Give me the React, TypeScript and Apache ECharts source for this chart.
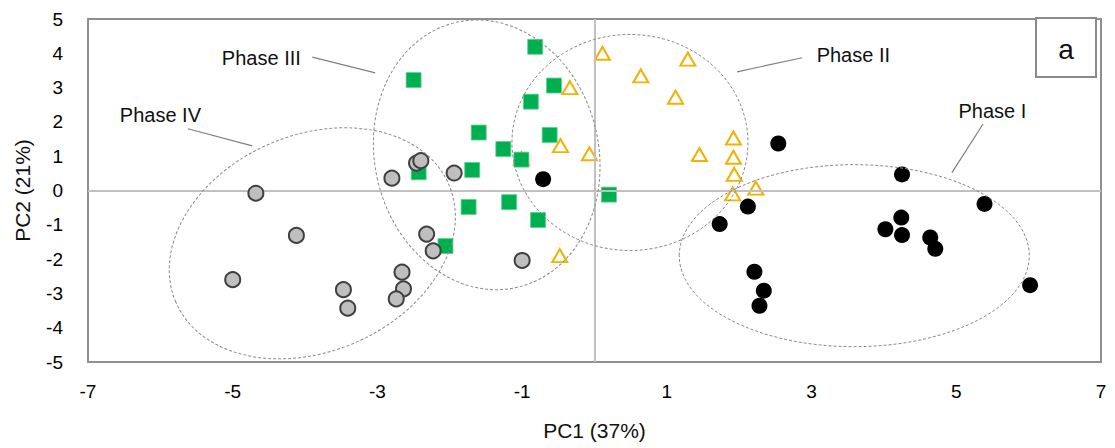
import React, { useEffect, useRef } from "react";
import * as echarts from "echarts";

// PCA scores [PC1, PC2] per phase
const phaseI: number[][] = [
  [-0.71, 0.33], [2.54, 1.37], [4.25, 0.47], [2.12, -0.47], [1.73, -0.98],
  [5.39, -0.39], [4.24, -0.79], [4.02, -1.13], [4.25, -1.3], [4.64, -1.37],
  [4.71, -1.7], [6.02, -2.76], [2.21, -2.37], [2.34, -2.92], [2.28, -3.36],
];
const phaseII: number[][] = [
  [0.11, 4.0], [1.29, 3.83], [0.64, 3.34], [-0.34, 3.0], [1.12, 2.72],
  [-0.47, 1.31], [-0.07, 1.07], [1.45, 1.05], [1.92, 1.53], [1.92, 0.97],
  [1.93, 0.47], [1.91, -0.1], [2.23, 0.07], [-0.48, -1.9], [-1.01, 0.93],
];
const phaseIII: number[][] = [
  [-0.82, 4.19], [-2.5, 3.22], [-0.56, 3.06], [-0.88, 2.59], [-1.6, 1.69],
  [-0.62, 1.62], [-1.26, 1.21], [-1.01, 0.9], [-1.69, 0.6], [-2.43, 0.53],
  [0.2, -0.12], [-1.74, -0.48], [-1.18, -0.34], [-0.78, -0.86], [-2.06, -1.62],
];
const phaseIV: number[][] = [
  [-4.68, -0.08], [-4.12, -1.31], [-5.0, -2.6], [-3.47, -2.89], [-3.41, -3.43],
  [-2.32, -1.27], [-2.23, -1.76], [-2.66, -2.38], [-2.64, -2.87], [-2.74, -3.16],
  [-1.0, -2.04], [-2.8, 0.36], [-2.46, 0.8], [-2.4, 0.87], [-1.94, 0.51],
];

const xRange = [-7, 7];
const yRange = [-5, 5];
const xTitle = "PC1 (37%)";
const yTitle = "PC2 (21%)";
const panelLabel = "a";

// Group ellipses (center in data units; radii in px; rotation deg, CCW)
const ellipses = [
  { name: "Phase I", cx: 3.59, cy: -1.9, rx: 175, ry: 91, rot: 0 },
  { name: "Phase II", cx: 0.49, cy: 1.4, rx: 118, ry: 108, rot: 0 },
  { name: "Phase III", cx: -1.49, cy: 1.04, rx: 112, ry: 136, rot: 13 },
  { name: "Phase IV", cx: -3.9, cy: -1.54, rx: 148.6, ry: 108.2, rot: 23.4 },
];
// Labels: text anchor (left, middle) and leader line, in data units
const phaseLabels = [
  { text: "Phase I", at: [5.03, 2.32], from: [5.37, 1.94], to: [4.94, 0.52] },
  { text: "Phase II", at: [3.07, 3.95], from: [2.87, 3.87], to: [1.97, 3.46] },
  { text: "Phase III", at: [-5.15, 3.87], from: [-3.9, 3.89], to: [-3.03, 3.43] },
  { text: "Phase IV", at: [-6.56, 2.21], from: [-5.62, 1.8], to: [-4.73, 1.3] },
];

const FONT = "'Liberation Sans', Arial, sans-serif";

export default function App() {
  const ref = useRef<HTMLDivElement>(null);
  useEffect(() => {
    const chart = echarts.init(ref.current!, null, { renderer: "svg" });
    const option: any = {
      animation: false,
      backgroundColor: "#ffffff",
      textStyle: { fontFamily: FONT },
      grid: {
        left: 88,
        right: 14,
        top: 19,
        bottom: 86,
        show: true,
        borderColor: "#8f8f8f",
        borderWidth: 2,
        backgroundColor: "transparent",
      },
      xAxis: {
        type: "value",
        min: xRange[0],
        max: xRange[1],
        interval: 1,
        axisLine: { show: false },
        axisTick: { show: false },
        splitLine: { show: false },
        axisLabel: {
          fontSize: 19,
          color: "#000",
          fontFamily: FONT,
          margin: 20,
          formatter: (v: number) => (Math.abs(Math.round(v)) % 2 === 1 ? String(Math.round(v)) : ""),
        },
        name: xTitle,
        nameLocation: "middle",
        nameGap: 58,
        nameTextStyle: { fontSize: 21, color: "#111", fontFamily: FONT },
      },
      yAxis: {
        type: "value",
        min: yRange[0],
        max: yRange[1],
        interval: 1,
        axisLine: { show: false },
        axisTick: { show: false },
        splitLine: { show: false },
        axisLabel: { fontSize: 19, color: "#000", fontFamily: FONT, margin: 25 },
        name: yTitle,
        nameLocation: "middle",
        nameGap: 55,
        nameRotate: 90,
        nameTextStyle: { fontSize: 21, color: "#111", fontFamily: FONT },
      },
      series: [
        {
          type: "scatter",
          name: "zero",
          data: [],
          z: 1,
          markLine: {
            silent: true,
            symbol: ["none", "none"],
            label: { show: false },
            lineStyle: { color: "#c0c0c0", width: 2, type: "solid" },
            data: [{ xAxis: 0 }, { yAxis: 0 }],
          },
        },
        {
          type: "scatter",
          name: "Phase II",
          data: phaseII,
          symbol: "triangle",
          symbolSize: [15, 13],
          itemStyle: { color: "#ffffff", borderColor: "#f2b200", borderWidth: 2, opacity: 1 },
          z: 3,
        },
        {
          type: "scatter",
          name: "Phase III",
          data: phaseIII,
          symbol: "rect",
          symbolSize: 15,
          itemStyle: { color: "#00b050", borderColor: "#5fd08f", borderWidth: 0.8, opacity: 1 },
          z: 4,
        },
        {
          type: "scatter",
          name: "Phase I",
          data: phaseI,
          symbol: "circle",
          symbolSize: 16,
          itemStyle: { color: "#000000", opacity: 1 },
          z: 5,
        },
        {
          type: "scatter",
          name: "Phase IV",
          data: phaseIV,
          symbol: "circle",
          symbolSize: 15,
          itemStyle: { color: "#bfbfbf", borderColor: "#404040", borderWidth: 2, opacity: 1 },
          z: 6,
        },
      ],
    };
    chart.setOption(option);

    const toPx = (p: number[]) => chart.convertToPixel({ gridIndex: 0 }, p) as number[];
    const gfx: any[] = [];
    ellipses.forEach((e) => {
      const [px, py] = toPx([e.cx, e.cy]);
      gfx.push({
        type: "ellipse",
        x: px,
        y: py,
        rotation: (e.rot * Math.PI) / 180,
        shape: { cx: 0, cy: 0, rx: e.rx, ry: e.ry },
        style: { fill: "none", stroke: "#8a8a8a", lineWidth: 1, lineDash: [3, 2] },
        silent: true,
        z: 20,
      });
    });
    phaseLabels.forEach((l) => {
      const [tx, ty] = toPx(l.at);
      const [x1, y1] = toPx(l.from);
      const [x2, y2] = toPx(l.to);
      gfx.push({
        type: "line",
        shape: { x1, y1, x2, y2 },
        style: { stroke: "#7f7f7f", lineWidth: 1.2 },
        silent: true,
        z: 20,
      });
      gfx.push({
        type: "text",
        x: tx,
        y: ty,
        style: {
          text: l.text,
          fill: "#111",
          font: `20px ${FONT}`,
          textAlign: "left",
          textVerticalAlign: "middle",
        },
        silent: true,
        z: 20,
      });
    });
    gfx.push({
      type: "group",
      right: 18,
      top: 17,
      z: 30,
      children: [
        {
          type: "rect",
          shape: { x: 0, y: 0, width: 60, height: 59 },
          style: { fill: "#ffffff", stroke: "#8a8a8a", lineWidth: 2 },
        },
        {
          type: "text",
          x: 30,
          y: 31,
          style: {
            text: panelLabel,
            fill: "#111",
            font: `28px ${FONT}`,
            textAlign: "center",
            textVerticalAlign: "middle",
          },
        },
      ],
    });
    chart.setOption({ graphic: gfx });
    return () => chart.dispose();
  }, []);
  return (
    <div
      ref={ref}
      style={{ position: "absolute", left: 0, top: 0, width: 1115, height: 448 }}
    />
  );
}
